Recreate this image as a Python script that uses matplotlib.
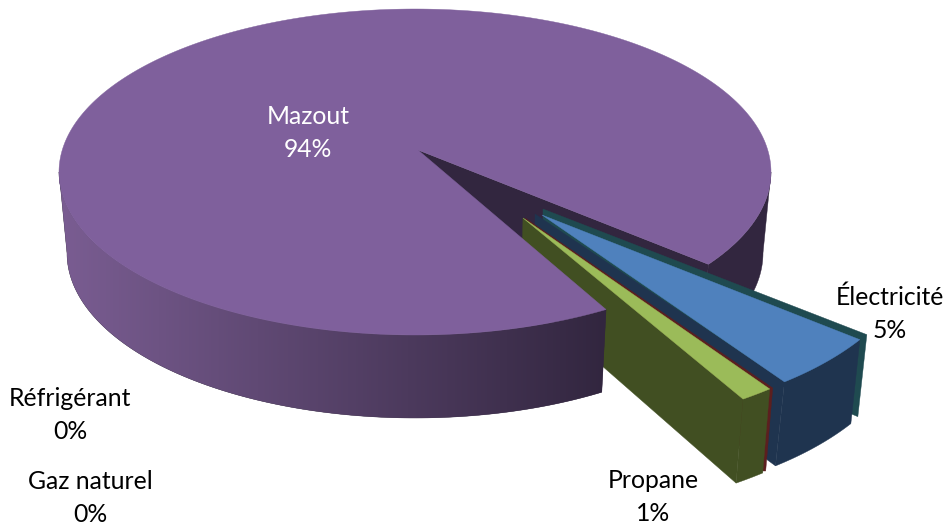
import numpy as np
import matplotlib
matplotlib.use("Agg")
import matplotlib.pyplot as plt
from matplotlib.patches import Polygon
from matplotlib.colors import LinearSegmentedColormap

# ---- data (counter-clockwise order from the start angle)
categories = ["Mazout", "Réfrigérant", "Gaz naturel", "Propane", "Électricité"]
values = [93.6, 0.0, 0.0, 1.3, 5.1]

# ---- layout
START = -34.5
TOP = dict(c=(415, 172), a=356, b=163)
BOT = dict(c=(415, 253), a=348, b=165)
ELEC = dict(c=(578, 236), a=342, b=183, apex=(542, 215), drop=(-9, 84))
PROP = dict(c=(530, 216), a=397, b=217, apex=(523, 218), drop=(-7, 84))
MAZ_APEX = (418, 150)
MAZ_APEX_BOT = (418, 232)
label_pos = {"Mazout": (308, 133, "white"), "Électricité": (890, 314, "black"),
             "Propane": (653, 497, "black"), "Réfrigérant": (70, 415, "black"),
             "Gaz naturel": (90, 498, "black")}

PURPLE, PURPLE_DK = "#7F609C", "#32263F"
GRAD_L, GRAD_R = "#7A5D92", "#32263F"
BLUE, NAVY, TEAL = "#4F81BD", "#1F344F", "#1F4A50"
GREEN, OLIVE, RED = "#9BBB59", "#414F22", "#5C1F1F"

# ---- angles from values
cum = START + 360 * np.concatenate([[0], np.cumsum(values)]) / sum(values)
span = {n: (cum[i], cum[i + 1]) for i, n in enumerate(categories)}


def ell(g, t):
    t = np.radians(t)
    return np.column_stack([g["c"][0] + g["a"] * np.cos(t), g["c"][1] + g["b"] * np.sin(-t)])


fig = plt.figure(figsize=(9.49, 5.27), dpi=100)
ax = fig.add_axes([0, 0, 1, 1])
ax.axis("off")


def poly(pts, color, z):
    p = Polygon(np.asarray(pts), closed=True, fc=color, ec=color, lw=0.3, zorder=z)
    ax.add_patch(p)
    return p


m0, m1 = span["Mazout"]
# back walls of the main slice
tr = np.linspace(START, 0, 60)
poly(np.vstack([ell(TOP, tr), ell(BOT, tr)[::-1]]), PURPLE_DK, 1)
p_start_t, p_start_b = ell(TOP, [START])[0], ell(BOT, [START])[0]
poly([MAZ_APEX, p_start_t, p_start_b, MAZ_APEX_BOT], PURPLE_DK, 1)

# Électricité
e0, e1 = span["Électricité"]
arc = ell(ELEC, np.linspace(e0, e1, 30))
drop = np.array(ELEC["drop"])
p_l, p_r = arc[0], arc[-1]
poly([(543, 209), p_r + (7, -5), p_r + (-2, 77), (543, 285)], TEAL, 2)
poly([(535, 214), p_l, p_l + drop, (535, 290)], NAVY, 3)
poly(np.vstack([arc, (arc + drop)[::-1]]), NAVY, 3)
poly(np.vstack([[ELEC["apex"]], arc]), BLUE, 4)

# Propane
q0, q1 = span["Propane"]
arc2 = ell(PROP, np.linspace(q0, q1, 10))
drop2 = np.array(PROP["drop"])
q_l, q_r = arc2[0], arc2[-1]
poly([(525, 218), q_r + (3, -1), q_r + (-4, 82), q_r + (-7, 82)], RED, 5)
poly([PROP["apex"], q_l, q_l + drop2, (521, 295)], OLIVE, 6)
poly(np.vstack([arc2, (arc2 + drop2)[::-1]]), OLIVE, 6)
poly(np.vstack([[PROP["apex"]], arc2]), GREEN, 7)

# front wall of the main slice with horizontal gradient
tf = np.linspace(180, m1, 130)
T, B = ell(TOP, tf), ell(BOT, tf)
wall = poly(np.vstack([T, B[::-1]]), GRAD_R, 8)
cmap = LinearSegmentedColormap.from_list("wall", [GRAD_L, GRAD_R])
img = ax.imshow(np.linspace(0, 1, 512)[None, :], cmap=cmap, aspect="auto", interpolation="bilinear",
                extent=(T[0, 0], T[-1, 0], B[:, 1].max(), T[:, 1].min()), zorder=8.5)
img.set_clip_path(wall)

# top of the main slice
tt = np.linspace(m0, m1, 400)
poly(np.vstack([[MAZ_APEX], ell(TOP, tt)]), PURPLE, 9)

# labels
for name, v in zip(categories, values):
    x, y, col = label_pos[name]
    ax.text(x, y, f"{name}\n{round(v)}%", color=col, ha="center", va="center",
            family=["Lato", "DejaVu Sans"], fontsize=17.8, linespacing=1.51, zorder=10)

ax.set_xlim(0, 949)
ax.set_ylim(527, 0)
fig.savefig("out.png", dpi=100)
